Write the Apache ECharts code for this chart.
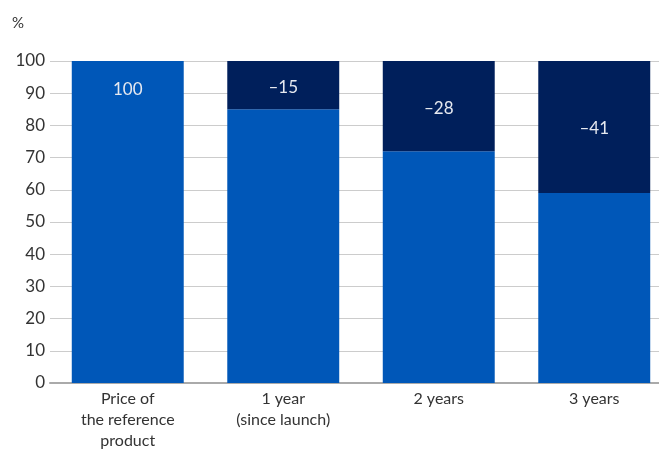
<!DOCTYPE html>
<html>
<head>
<meta charset="utf-8">
<script src="https://cdn.jsdelivr.net/npm/echarts@6/dist/echarts.min.js"></script>
<style>html,body{margin:0;padding:0;background:#fff}#c{width:659px;height:450px}</style>
</head>
<body>
<div id="c"></div>
<script>
const categories = ['Price of\nthe reference\nproduct', '1 year\n(since launch)', '2 years', '3 years'];
const remainingValues = [100, 85, 72, 59];
const reductionValues = [0, 15, 28, 41];
const reductionLabels = ['', '–15', '–28', '–41'];
const yTicks = [0, 10, 20, 30, 40, 50, 60, 70, 80, 90, 100];

const FONT = 'Lato';
const chart = echarts.init(document.getElementById('c'));
chart.setOption({
  animation: false,
  textStyle: { fontFamily: FONT },
  grid: { left: 50, width: 622, top: 61, bottom: 67, containLabel: false, outerBoundsMode: 'none' },
  xAxis: {
    type: 'category',
    data: categories,
    axisLine: { lineStyle: { color: '#aaaaaa', width: 2 } },
    axisTick: { show: false },
    axisLabel: { color: '#333', fontSize: 16, lineHeight: 21, margin: 5, fontFamily: FONT }
  },
  yAxis: {
    type: 'value',
    min: yTicks[0],
    max: yTicks[yTicks.length - 1],
    interval: 10,
    name: '%',
    nameLocation: 'end',
    nameGap: 0,
    nameTextStyle: { color: '#333', fontSize: 15, align: 'left', padding: [0, 0, 30, -38], fontFamily: FONT },
    axisLine: { show: false },
    axisTick: { show: false },
    splitLine: { lineStyle: { color: '#cccccc', width: 1 } },
    axisLabel: { color: '#333', fontSize: 17, margin: 5, fontFamily: FONT }
  },
  series: [
    {
      type: 'bar',
      stack: 's',
      barCategoryGap: '28%',
      data: remainingValues.map((v, i) => ({
        value: v,
        label: i === 0 ? { show: true, position: 'insideTop', distance: 20, formatter: String(v) } : { show: false }
      })),
      itemStyle: { color: '#0057b8' },
      label: { color: '#e6e9f0', fontSize: 17, fontFamily: FONT }
    },
    {
      type: 'bar',
      stack: 's',
      data: reductionValues,
      itemStyle: { color: '#001f5b' },
      label: {
        show: true,
        position: 'inside',
        color: '#e6e9f0',
        fontSize: 17,
        fontFamily: FONT,
        offset: [0, 2],
        formatter: p => reductionLabels[p.dataIndex]
      }
    }
  ]
});
</script>
</body>
</html>
